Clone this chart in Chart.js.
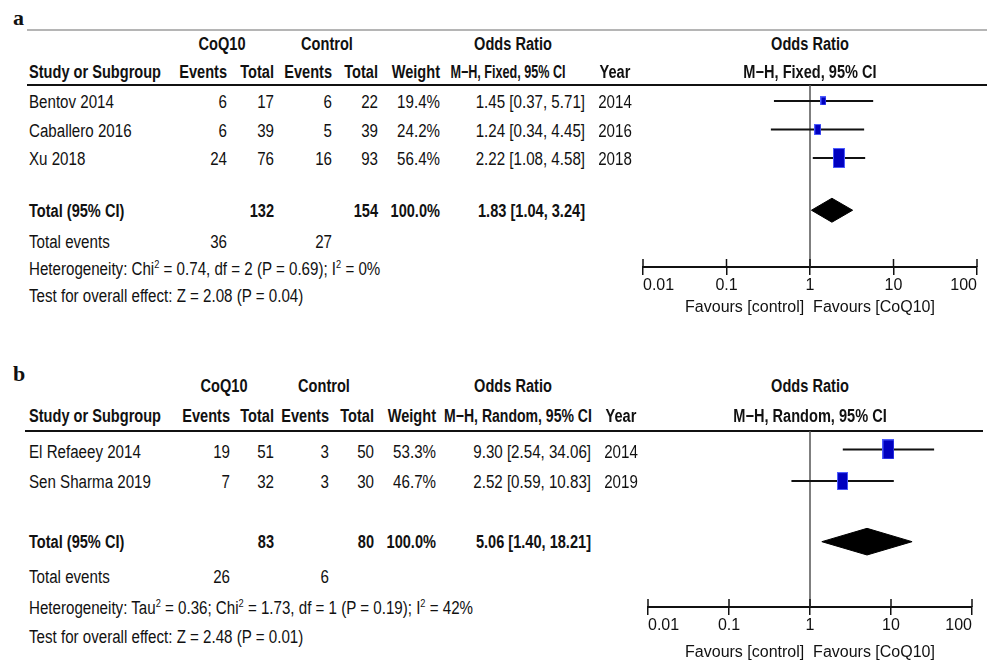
<!DOCTYPE html>
<html>
<head>
<meta charset="utf-8">
<script src="https://cdn.jsdelivr.net/npm/chart.js@4.4.0/dist/chart.umd.min.js"></script>
<style>
  body { margin: 0; background: #fff; width: 987px; height: 661px; position: relative; overflow: hidden;
         font-family: "Liberation Sans", Arial, sans-serif; font-size: 18px; color: #111; }
  .t { position: absolute; white-space: nowrap; line-height: 1; }
  .t sup { font-size: 11px; }
  .hl { position: absolute; height: 0; }
  canvas { position: absolute; }
  .lab { position: absolute; font-family: "Liberation Serif", serif; font-weight: bold; font-size: 22px; line-height: 1; }
</style>
</head>
<body>
<div class="lab" style="left:13px;top:7px">a</div>
<div class="lab" style="left:13px;top:363px">b</div>
<div class="hl" style="left:27px;top:29px;width:960px;border-top:2px solid #b5b5b5"></div>
<div class="hl" style="left:27px;top:84px;width:960px;border-top:2px solid #111"></div>
<div class="hl" style="left:25px;top:430px;width:958px;border-top:2px solid #111"></div>
<canvas id="plotA" width="374" height="242" style="left:613px;top:75px"></canvas>
<canvas id="plotB" width="374" height="241" style="left:618px;top:421px"></canvas>
<script>
// a: fixed effect
const studiesA = ['Bentov 2014', 'Caballero 2016', 'Xu 2018'];
const coqEventsA = [6, 6, 24];
const coqTotalA = [17, 39, 76];
const ctlEventsA = [6, 5, 16];
const ctlTotalA = [22, 39, 93];
const weightA = [19.4, 24.2, 56.4];
const orA = [1.45, 1.24, 2.22];
const loA = [0.37, 0.34, 1.08];
const hiA = [5.71, 4.45, 4.58];
const yearA = [2014, 2016, 2018];
const totalA = [1.83, 1.04, 3.24];      // OR, lower, upper
const totalsA = [132, 154, 36, 27];     // coq total, ctl total, coq events, ctl events

// b: random effects
const studiesB = ['El Refaeey 2014', 'Sen Sharma 2019'];
const coqEventsB = [19, 7];
const coqTotalB = [51, 32];
const ctlEventsB = [3, 3];
const ctlTotalB = [50, 30];
const weightB = [53.3, 46.7];
const orB = [9.30, 2.52];
const loB = [2.54, 0.59];
const hiB = [34.06, 10.83];
const yearB = [2014, 2019];
const totalB = [5.06, 1.40, 18.21];
const totalsB = [83, 80, 26, 6];

const tickVals = [0.01, 0.1, 1, 10, 100];
const tickLabels = ['0.01', '0.1', '1', '10', '100'];

// text is squeezed a bit to look like the narrow font of the original
function put(x, y, html, align, bold, kx) {
  const d = document.createElement('div');
  d.className = 't';
  d.innerHTML = html;
  d.style.left = x + 'px';
  d.style.top = y + 'px';
  const tx = align === 'r' ? '-100%' : align === 'c' ? '-50%' : '0';
  const ox = align === 'r' ? '100%' : align === 'c' ? '50%' : '0';
  const k = kx || (bold ? 0.81 : 0.84);
  d.style.transformOrigin = ox + ' 50%';
  d.style.transform = 'translate(' + tx + ',-50%) scaleX(' + k + ')';
  if (bold) d.style.fontWeight = 'bold';
  document.body.appendChild(d);
}

function ci(o, l, h) {
  return o.toFixed(2) + ' [' + l.toFixed(2) + ', ' + h.toFixed(2) + ']';
}

// table part
function table(p) {
  const c = p.cols;
  put(c.coqHead, p.head1, 'CoQ10', 'c', true);
  put(c.ctlHead, p.head1, 'Control', 'c', true);
  put(c.orHead, p.head1, 'Odds Ratio', 'c', true);
  put(810, p.head1, 'Odds Ratio', 'c', true);
  put(29, p.head2, 'Study or Subgroup', 'l', true);
  put(c.coqEv, p.head2, 'Events', 'r', true);
  put(c.coqTot, p.head2, 'Total', 'r', true);
  put(c.ctlEv, p.head2, 'Events', 'r', true);
  put(c.ctlTot, p.head2, 'Total', 'r', true);
  put(c.wt, p.head2, 'Weight', 'r', true);
  put(c.mhHead, p.head2, p.method, 'c', true, p.mhScale);
  put(c.year, p.head2, 'Year', 'c', true);
  put(810, p.head2, p.method, 'c', true);

  p.studies.forEach((s, i) => {
    const y = p.rows[i];
    put(29, y, s, 'l');
    put(c.coqEv, y, p.coqEv[i], 'r');
    put(c.coqTot, y, p.coqTot[i], 'r');
    put(c.ctlEv, y, p.ctlEv[i], 'r');
    put(c.ctlTot, y, p.ctlTot[i], 'r');
    put(c.wt, y, p.wt[i].toFixed(1) + '%', 'r');
    put(c.or, y, ci(p.or[i], p.lo[i], p.hi[i]), 'r');
    put(c.year, y, p.year[i], 'c');
  });
  put(29, p.totRow, 'Total (95% CI)', 'l', true);
  put(c.coqTot, p.totRow, p.totals[0], 'r', true);
  put(c.ctlTot, p.totRow, p.totals[1], 'r', true);
  put(c.wt, p.totRow, '100.0%', 'r', true);
  put(c.or, p.totRow, ci(p.total[0], p.total[1], p.total[2]), 'r', true);
  put(29, p.evRow, 'Total events', 'l');
  put(c.coqEv, p.evRow, p.totals[2], 'r');
  put(c.ctlEv, p.evRow, p.totals[3], 'r');
  put(29, p.hetRow, p.het, 'l');
  put(29, p.testRow, p.test, 'l');
}

table({
  cols: { coqHead: 222, ctlHead: 327, orHead: 513, coqEv: 227, coqTot: 274, ctlEv: 332, ctlTot: 378,
          wt: 440, mhHead: 508, or: 585, year: 615 },
  head1: 44, head2: 72, rows: [102, 130.5, 158.5], totRow: 211, evRow: 241.5, hetRow: 268, testRow: 296,
  method: 'M&minus;H, Fixed, 95% CI', mhScale: 0.7,
  studies: studiesA, coqEv: coqEventsA, coqTot: coqTotalA, ctlEv: ctlEventsA, ctlTot: ctlTotalA,
  wt: weightA, or: orA, lo: loA, hi: hiA, year: yearA, total: totalA, totals: totalsA,
  het: 'Heterogeneity: Chi<sup>2</sup> = 0.74, df = 2 (P = 0.69); I<sup>2</sup> = 0%',
  test: 'Test for overall effect: Z = 2.08 (P = 0.04)'
});

table({
  cols: { coqHead: 224, ctlHead: 324, orHead: 513, coqEv: 230, coqTot: 274, ctlEv: 329, ctlTot: 374,
          wt: 436, mhHead: 518, or: 591, year: 621 },
  head1: 386, head2: 416, rows: [452, 482], totRow: 542, evRow: 577, hetRow: 607, testRow: 637,
  method: 'M&minus;H, Random, 95% CI', mhScale: 0.78,
  studies: studiesB, coqEv: coqEventsB, coqTot: coqTotalB, ctlEv: ctlEventsB, ctlTot: ctlTotalB,
  wt: weightB, or: orB, lo: loB, hi: hiB, year: yearB, total: totalB, totals: totalsB,
  het: 'Heterogeneity: Tau<sup>2</sup> = 0.36; Chi<sup>2</sup> = 1.73, df = 1 (P = 0.19); I<sup>2</sup> = 42%',
  test: 'Test for overall effect: Z = 2.48 (P = 0.01)'
});

// blue weight boxes, size grows with weight
function box(wt, maxW) {
  const h = Math.round(19.5 * Math.pow(wt / maxW, 0.7));
  const w = Math.max(5, Math.round(h * 0.62));
  const c = document.createElement('canvas');
  c.width = w; c.height = h;
  const g = c.getContext('2d');
  g.fillStyle = '#4d5cff';
  g.fillRect(0, 0, w, h);
  g.fillStyle = '#0000bf';
  g.fillRect(1, 1, w - 2, h - 2);
  return c;
}

// ticks above the axis line too
const upTicks = {
  id: 'upTicks',
  afterDraw(chart) {
    const x = chart.scales.x, ctx = chart.ctx, yb = chart.chartArea.bottom;
    ctx.save();
    ctx.strokeStyle = '#111';
    ctx.lineWidth = 1.5;
    tickVals.forEach(v => {
      const px = x.getPixelForValue(v);
      ctx.beginPath();
      ctx.moveTo(px, yb - 8);
      ctx.lineTo(px, yb);
      ctx.stroke();
    });
    ctx.restore();
  }
};

const axisFont = { family: '"Liberation Sans", Arial, sans-serif', size: 16 };

function forest(id, or, lo, hi, wt, total, yMin, yMax, totPos, padL, padR, axisH) {
  const maxW = Math.max(...wt);
  const rows = or.map((v, i) => i + 1);
  const datasets = [];
  datasets.push({
    type: 'scatter', order: 0,
    data: or.map((v, i) => ({ x: v, y: rows[i] })),
    pointStyle: wt.map(w => box(w, maxW))
  });
  or.forEach((v, i) => {
    datasets.push({
      type: 'line', order: 1, showLine: true, pointRadius: 0,
      borderColor: '#111', borderWidth: 2,
      data: [{ x: lo[i], y: rows[i] }, { x: hi[i], y: rows[i] }]
    });
  });
  const dh = 0.42;
  datasets.push({
    type: 'line', order: 1, pointRadius: 0, borderColor: '#000', borderWidth: 1,
    backgroundColor: '#000', fill: 'shape',
    data: [
      { x: total[1], y: totPos }, { x: total[0], y: totPos - dh },
      { x: total[2], y: totPos }, { x: total[0], y: totPos + dh },
      { x: total[1], y: totPos }
    ]
  });
  datasets.push({
    type: 'line', order: 2, pointRadius: 0, borderColor: '#555', borderWidth: 1.5,
    data: [{ x: 1, y: yMin }, { x: 1, y: yMax }]
  });

  new Chart(document.getElementById(id), {
    type: 'scatter',
    data: { datasets },
    options: {
      responsive: false, animation: false, devicePixelRatio: 1,
      layout: { padding: { left: padL, right: padR, top: 10, bottom: 0 } },
      plugins: { legend: { display: false }, tooltip: { enabled: false } },
      scales: {
        x: {
          type: 'logarithmic', min: 0.01, max: 100,
          afterBuildTicks: s => { s.ticks = tickVals.map(v => ({ value: v })); },
          afterFit: s => { s.height = axisH; },
          ticks: {
            autoSkip: false, maxRotation: 0, align: 'inner', padding: 1, color: '#111',
            font: axisFont,
            callback: (v) => tickLabels[tickVals.indexOf(v)]
          },
          grid: { drawOnChartArea: false, drawTicks: true, tickLength: 8, color: '#111', lineWidth: 1.5 },
          border: { display: true, color: '#111', width: 2 },
          title: {
            display: true, text: 'Favours [control]  Favours [CoQ10]', color: '#111',
            font: axisFont,
            padding: { top: 0, bottom: 0 }
          }
        },
        y: { type: 'linear', reverse: true, min: yMin, max: yMax, display: false }
      }
    },
    plugins: [upTicks]
  });
}

forest('plotA', orA, loA, hiA, weightA, totalA, 0.44, 6.82, 4.83, 30, 10, 50);
forest('plotB', orB, loB, hiB, weightB, totalB, 0.42, 5.97, 3.91, 30, 20, 55);
</script>
</body>
</html>
